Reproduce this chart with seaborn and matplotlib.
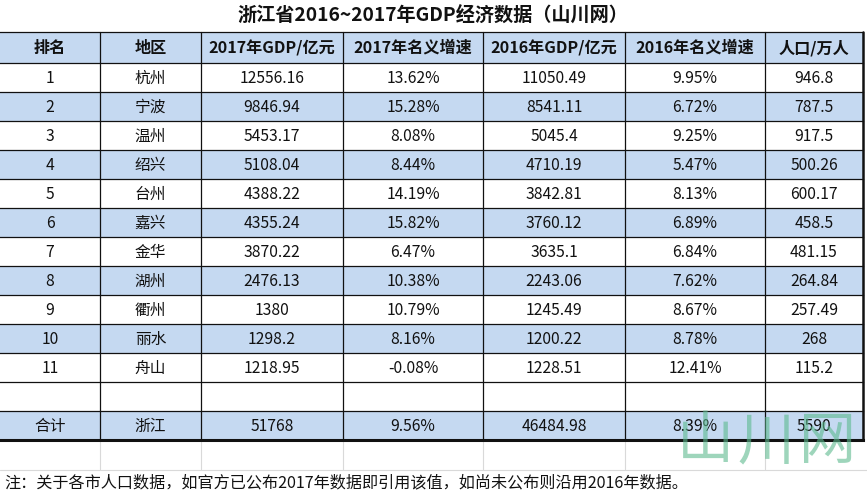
import matplotlib
matplotlib.use("Agg")
import matplotlib.pyplot as plt
import seaborn as sns
from matplotlib.patches import Rectangle

sns.set_theme(style="white")
plt.rcParams['font.family'] = ['Noto Sans CJK SC', 'DejaVu Sans']

# ---- data ----
title = "浙江省2016~2017年GDP经济数据（山川网）"
headers = ["排名", "地区", "2017年GDP/亿元", "2017年名义增速", "2016年GDP/亿元", "2016年名义增速", "人口/万人"]
ranks = ["1", "2", "3", "4", "5", "6", "7", "8", "9", "10", "11"]
cities = ["杭州", "宁波", "温州", "绍兴", "台州", "嘉兴", "金华", "湖州", "衢州", "丽水", "舟山"]
gdp2017 = ["12556.16", "9846.94", "5453.17", "5108.04", "4388.22", "4355.24", "3870.22", "2476.13", "1380", "1298.2", "1218.95"]
growth2017 = ["13.62%", "15.28%", "8.08%", "8.44%", "14.19%", "15.82%", "6.47%", "10.38%", "10.79%", "8.16%", "-0.08%"]
gdp2016 = ["11050.49", "8541.11", "5045.4", "4710.19", "3842.81", "3760.12", "3635.1", "2243.06", "1245.49", "1200.22", "1228.51"]
growth2016 = ["9.95%", "6.72%", "9.25%", "5.47%", "8.13%", "6.89%", "6.84%", "7.62%", "8.67%", "8.78%", "12.41%"]
population = ["946.8", "787.5", "917.5", "500.26", "600.17", "458.5", "481.15", "264.84", "257.49", "268", "115.2"]
total_row = ["合计", "浙江", "51768", "9.56%", "46484.98", "8.39%", "5590"]
note = "注：关于各市人口数据，如官方已公布2017年数据即引用该值，如尚未公布则沿用2016年数据。"
watermark = "山川网"

# ---- layout (pixels) ----
W, H = 867, 498
col_edges = [0, 100, 201, 343, 483, 625, 765, 863]
header_top, header_bot = 32, 63
row_h = 29
blue = "#c5d9f1"

fig = plt.figure(figsize=(W / 100, H / 100), dpi=100)
ax = fig.add_axes([0, 0, 1, 1])
ax.set_xlim(0, W)
ax.set_ylim(H, 0)
ax.axis("off")

data_rows = list(zip(ranks, cities, gdp2017, growth2017, gdp2016, growth2016, population))
rows = [("header", headers)] + [("data", r) for r in data_rows] + [("empty", [""] * 7), ("total", total_row)]

tops = [header_top]
for kind, _ in rows:
    h = (header_bot - header_top) if kind == "header" else row_h
    tops.append(tops[-1] + h)

for i, (kind, vals) in enumerate(rows):
    y0, y1 = tops[i], tops[i + 1]
    filled = kind in ("header", "total") or (kind == "data" and i % 2 == 0)
    if filled:
        ax.add_patch(Rectangle((col_edges[0], y0), col_edges[-1] - col_edges[0], y1 - y0,
                               facecolor=blue, edgecolor="none", zorder=1))
    for j, v in enumerate(vals):
        xc = (col_edges[j] + col_edges[j + 1]) / 2
        ax.text(xc, (y0 + y1) / 2 + 0.5, v, ha="center", va="center",
                fontsize=11.6 if kind == "header" else 11.3,
                fontweight="bold" if kind == "header" else "normal",
                color="#111111", zorder=3)

table_bot = tops[-1]
# horizontal lines
for k, y in enumerate(tops):
    lw = 2.2 if k == len(tops) - 1 else 0.9
    ax.plot([col_edges[0], col_edges[-1]], [y, y], color="#111111", lw=lw, zorder=2,
            solid_capstyle="projecting")
# vertical lines
for k, x in enumerate(col_edges[1:], start=1):
    lw = 1.8 if k == len(col_edges) - 1 else 0.9
    ax.plot([x, x], [header_top, table_bot], color="#111111", lw=lw, zorder=2)

# light spreadsheet grid below the table
grid_bot = table_bot + 30
for x in col_edges[1:-1]:
    ax.plot([x, x], [table_bot, grid_bot], color="#d9d9d9", lw=0.8, zorder=0)
ax.plot([0, W], [grid_bot, grid_bot], color="#d9d9d9", lw=0.8, zorder=0)

# title
ax.text(433, 15, title, ha="center", va="center", fontsize=13.8, fontweight="bold", color="#111111")

# note
ax.text(4, 483, note, ha="left", va="center", fontsize=11.6, color="#111111")

# watermark
for ch, xc in zip(watermark, [705, 766, 827]):
    ax.text(xc, 442, ch, ha="center", va="center", fontsize=41, color="#5dba8f",
            alpha=0.6, zorder=4)

fig.savefig("out.png", dpi=100)
